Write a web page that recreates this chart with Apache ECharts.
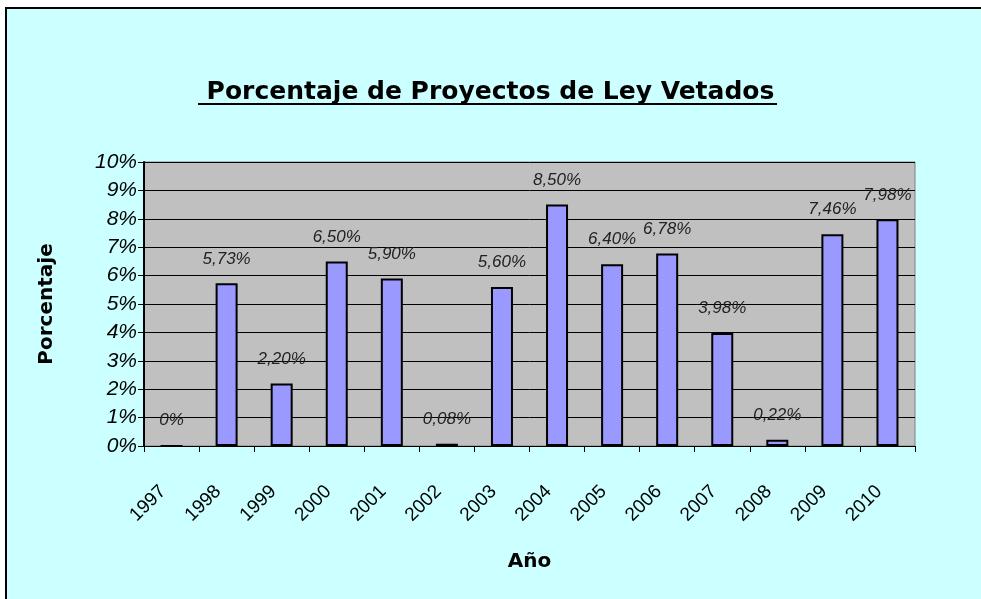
<!DOCTYPE html>
<html>
<head>
<meta charset="utf-8">
<script src="https://cdn.jsdelivr.net/npm/echarts@6/dist/echarts.min.js"></script>
<style>
  html, body { margin: 0; padding: 0; background: #fff; }
  #chart { width: 981px; height: 599px; }
</style>
</head>
<body>
<div id="chart"></div>
<script>
const years = ['1997', '1998', '1999', '2000', '2001', '2002', '2003', '2004', '2005', '2006', '2007', '2008', '2009', '2010']
const vetoed = [0, 5.73, 2.20, 6.50, 5.90, 0.08, 5.60, 8.50, 6.40, 6.78, 3.98, 0.22, 7.46, 7.98]
const yTicks = [0, 1, 2, 3, 4, 5, 6, 7, 8, 9, 10]

const fmt = v => (v === 0 ? '0' : v.toFixed(2).replace('.', ',')) + '%'

const chart = echarts.init(document.getElementById('chart'))

const option = {
  animation: false,
  backgroundColor: '#ffffff',
  graphic: [
    {
      type: 'rect',
      z: -10,
      shape: { x: 6, y: 8, width: 1000, height: 620 },
      style: { fill: '#CCFFFF', stroke: '#000', lineWidth: 2 }
    },
    {
      type: 'line',
      shape: { x1: 198, y1: 104, x2: 777, y2: 104 },
      style: { stroke: '#000', lineWidth: 2 }
    }
  ],
  title: {
    text: 'Porcentaje de Proyectos de Ley Vetados',
    left: 'center',
    top: 75,
    textStyle: {
      fontFamily: 'DejaVu Sans, Verdana, sans-serif',
      fontSize: 25,
      fontWeight: 'bold',
      color: '#000'
    }
  },
  grid: {
    left: 144,
    top: 162,
    width: 771,
    height: 284,
    show: true,
    backgroundColor: '#C0C0C0',
    borderColor: '#808080',
    borderWidth: 1
  },
  xAxis: {
    type: 'category',
    data: years,
    name: 'Año',
    nameLocation: 'middle',
    nameGap: 106,
    nameTextStyle: { fontFamily: 'DejaVu Sans, sans-serif', fontSize: 20, fontWeight: 'bold', color: '#000' },
    axisLine: { lineStyle: { color: '#000', width: 1 } },
    axisTick: { show: true, length: 6, inside: false, lineStyle: { color: '#000' } },
    axisLabel: {
      rotate: 45,
      margin: 34,
      padding: [0, 12, 0, 0],
      fontFamily: 'Liberation Sans, Arial, sans-serif',
      fontSize: 19,
      color: '#000'
    }
  },
  yAxis: {
    type: 'value',
    min: 0,
    max: 10,
    interval: 1,
    name: 'Porcentaje',
    nameLocation: 'middle',
    nameGap: 87,
    nameTextStyle: { fontFamily: 'DejaVu Sans, sans-serif', fontSize: 20, fontWeight: 'bold', color: '#000' },
    axisLine: { show: true, lineStyle: { color: '#000', width: 2 } },
    axisTick: { show: true, length: 6, lineStyle: { color: '#000' } },
    splitLine: { show: true, lineStyle: { color: '#000', width: 1 } },
    axisLabel: {
      margin: 7,
      formatter: v => yTicks.includes(v) ? v + '%' : '',
      fontFamily: 'Liberation Sans, Arial, sans-serif',
      fontStyle: 'italic',
      fontSize: 21,
      color: '#000'
    }
  },
  series: [
    {
      type: 'bar',
      data: vetoed,
      barWidth: 22,
      itemStyle: { color: '#9999FF', borderColor: '#000', borderWidth: 2 },
      label: {
        show: true,
        position: 'top',
        distance: 16,
        formatter: p => fmt(p.value),
        fontFamily: 'Liberation Sans, Arial, sans-serif',
        fontStyle: 'italic',
        fontSize: 17,
        color: '#222'
      }
    }
  ]
}

chart.setOption(option)
</script>
</body>
</html>
